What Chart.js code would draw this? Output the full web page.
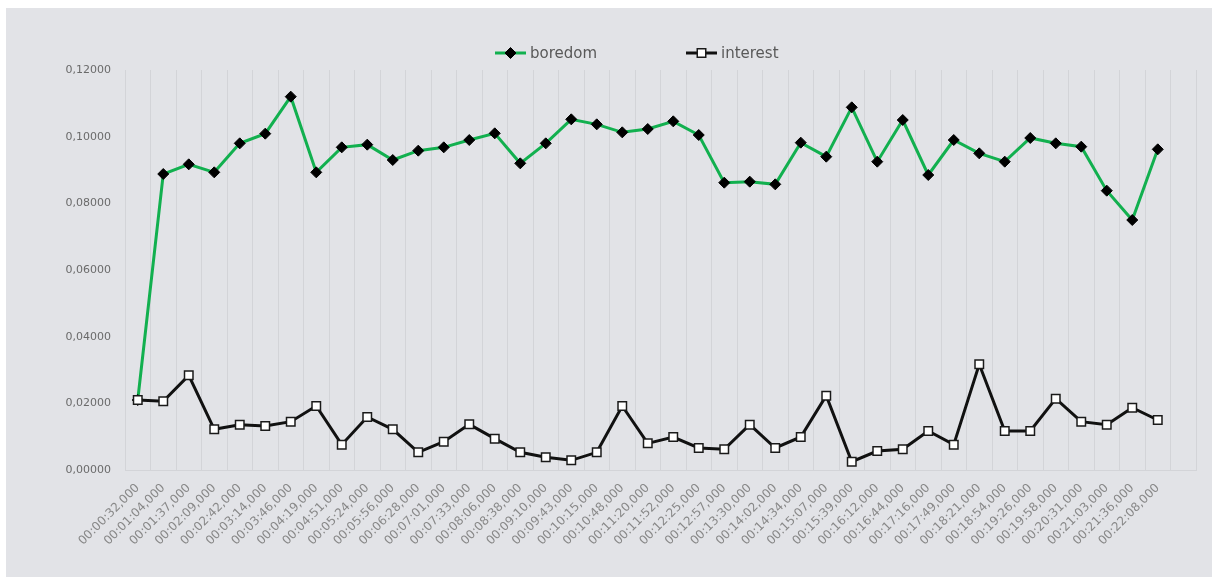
<!DOCTYPE html>
<html>
<head>
<meta charset="utf-8">
<title>boredom / interest</title>
<script src="https://cdn.jsdelivr.net/npm/chart.js@4/dist/chart.umd.min.js"></script>
<style>
  html, body { margin: 0; padding: 0; background: #ffffff; }
  #frame { position: absolute; left: 6px; top: 8px; width: 1206px; height: 569px; background: #e2e3e7; }
  canvas { display: block; }
</style>
</head>
<body>
<div id="frame"><canvas id="c" width="1206" height="569"></canvas></div>
<script>
// Time stamps of each sample window (the last slot is left empty on purpose)
const timeLabels = [
  '00:00:32,000', '00:01:04,000', '00:01:37,000', '00:02:09,000', '00:02:42,000',
  '00:03:14,000', '00:03:46,000', '00:04:19,000', '00:04:51,000', '00:05:24,000',
  '00:05:56,000', '00:06:28,000', '00:07:01,000', '00:07:33,000', '00:08:06,000',
  '00:08:38,000', '00:09:10,000', '00:09:43,000', '00:10:15,000', '00:10:48,000',
  '00:11:20,000', '00:11:52,000', '00:12:25,000', '00:12:57,000', '00:13:30,000',
  '00:14:02,000', '00:14:34,000', '00:15:07,000', '00:15:39,000', '00:16:12,000',
  '00:16:44,000', '00:17:16,000', '00:17:49,000', '00:18:21,000', '00:18:54,000',
  '00:19:26,000', '00:19:58,000', '00:20:31,000', '00:21:03,000', '00:21:36,000',
  '00:22:08,000', ''
];

const boredom = [
  0.0210, 0.0888, 0.0917, 0.0893, 0.0980, 0.1009, 0.1120, 0.0893, 0.0968, 0.0976,
  0.0930, 0.0958, 0.0968, 0.0990, 0.1010, 0.0920, 0.0980, 0.1052, 0.1037, 0.1013,
  0.1023, 0.1046, 0.1005, 0.0862, 0.0865, 0.0857, 0.0982, 0.0940, 0.1088, 0.0925,
  0.1050, 0.0885, 0.0990, 0.0950, 0.0925, 0.0996, 0.0980, 0.0970, 0.0838, 0.0750,
  0.0962, null
];

const interest = [
  0.0210, 0.0206, 0.0284, 0.0122, 0.0136, 0.0132, 0.0145, 0.0192, 0.0076, 0.0159,
  0.0122, 0.0053, 0.0085, 0.0137, 0.0094, 0.0053, 0.0038, 0.0029, 0.0053, 0.0192,
  0.0080, 0.0099, 0.0066, 0.0062, 0.0136, 0.0066, 0.0099, 0.0223, 0.0025, 0.0057,
  0.0062, 0.0117, 0.0076, 0.0317, 0.0117, 0.0117, 0.0214, 0.0145, 0.0136, 0.0187,
  0.0150, null
];

const yMin = 0;
const yMax = 0.12;
const yStep = 0.02;

const FONT = '"DejaVu Sans", "Open Sans", sans-serif';
const GRID = '#d3d4d8';

// Legend drawn as "line – marker – line" swatches followed by the series name
const lineLegend = {
  id: 'lineLegend',
  afterDraw(chart) {
    const ctx = chart.ctx;
    const y = 45;
    const slots = [{ index: 0, x: 489 }, { index: 1, x: 680 }];
    ctx.save();
    ctx.font = '15px ' + FONT;
    ctx.textBaseline = 'middle';
    ctx.textAlign = 'left';
    slots.forEach(slot => {
      const ds = chart.data.datasets[slot.index];
      ctx.strokeStyle = ds.borderColor;
      ctx.lineWidth = ds.borderWidth;
      ctx.beginPath();
      ctx.moveTo(slot.x, y);
      ctx.lineTo(slot.x + 31, y);
      ctx.stroke();
      ctx.fillStyle = ds.pointBackgroundColor;
      ctx.strokeStyle = ds.pointBorderColor;
      ctx.lineWidth = ds.pointBorderWidth;
      Chart.helpers.drawPoint(ctx, {
        pointStyle: ds.pointStyle,
        radius: ds.pointRadius,
        borderWidth: ds.pointBorderWidth,
        rotation: 0
      }, slot.x + 15.5, y);
      ctx.fillStyle = '#595959';
      ctx.fillText(ds.label, slot.x + 35, y + 1);
    });
    ctx.restore();
  }
};

new Chart(document.getElementById('c'), {
  type: 'line',
  data: {
    labels: timeLabels,
    datasets: [
      {
        label: 'boredom',
        data: boredom,
        order: 1,
        borderColor: '#12b04f',
        borderWidth: 3,
        tension: 0,
        pointStyle: 'rectRot',
        pointRadius: 5.5,
        pointBackgroundColor: '#000000',
        pointBorderColor: '#000000',
        pointBorderWidth: 1
      },
      {
        label: 'interest',
        data: interest,
        order: 0,
        borderColor: '#111111',
        borderWidth: 3,
        tension: 0,
        pointStyle: 'rect',
        pointRadius: 6,
        pointBackgroundColor: '#ffffff',
        pointBorderColor: '#1a1a1a',
        pointBorderWidth: 1.5
      }
    ]
  },
  options: {
    responsive: false,
    animation: false,
    devicePixelRatio: 1,
    layout: { padding: { top: 62, right: 16, left: 0, bottom: 0 } },
    plugins: {
      legend: { display: false },
      tooltip: { enabled: false }
    },
    scales: {
      x: {
        type: 'category',
        offset: true,
        grid: { offset: true, color: GRID, lineWidth: 1, drawTicks: false },
        border: { display: true, color: GRID, width: 1 },
        ticks: {
          autoSkip: false,
          minRotation: 45,
          maxRotation: 45,
          padding: 11,
          color: '#888888',
          font: { family: FONT, size: 12 }
        },
        afterFit(scale) { scale.height = 107; }
      },
      y: {
        min: yMin,
        max: yMax,
        grid: { display: false, drawTicks: false },
        border: { display: false },
        ticks: {
          stepSize: yStep,
          padding: 14,
          color: '#6a6a6a',
          font: { family: FONT, size: 11 },
          callback: v => Number(v).toFixed(5).replace('.', ',')
        },
        afterFit(scale) { scale.width = 119; }
      }
    }
  },
  plugins: [lineLegend]
});
</script>
</body>
</html>
